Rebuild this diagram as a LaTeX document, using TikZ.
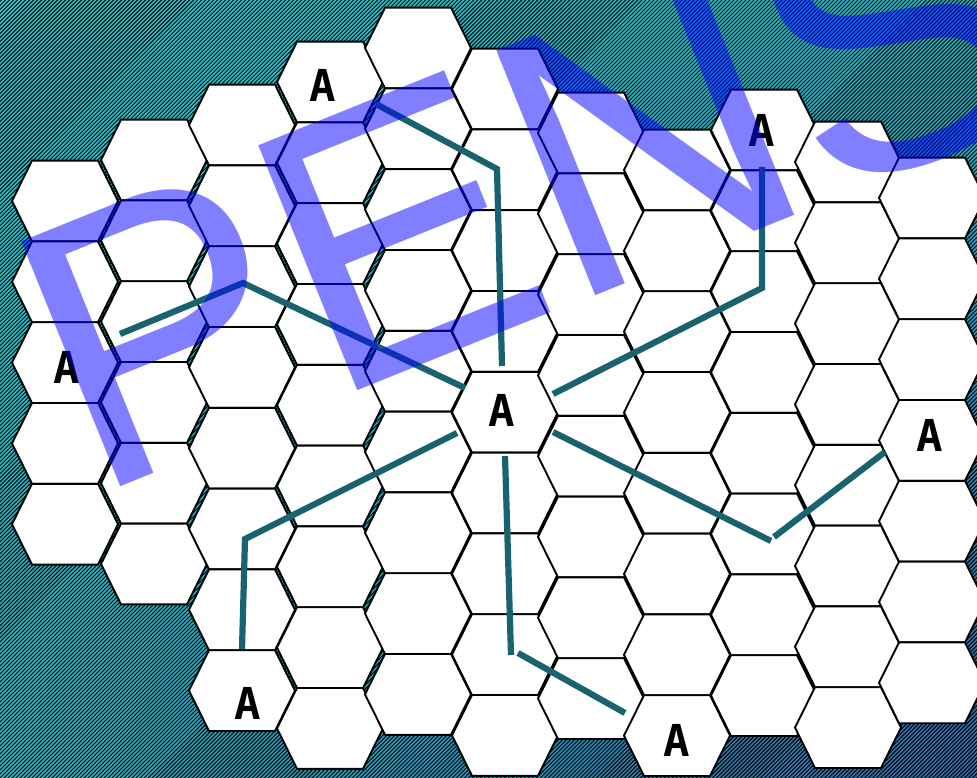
\documentclass[tikz,border=0pt]{standalone}
\usepackage{fontspec}
\newfontfamily\pensfont{Liberation Sans}
\newfontfamily\afont{DejaVu Sans Mono}
\usetikzlibrary{patterns.meta,shadings}
\definecolor{bgTL}{HTML}{33C2CA}
\definecolor{bgTR}{HTML}{30B6C2}
\definecolor{bgBL}{HTML}{30B4BE}
\definecolor{bgBR}{HTML}{2C64A0}
\definecolor{linkc}{HTML}{19636F}
\tikzset{
  hexcell/.style={fill=white, draw=black, line width=1.9pt, line join=miter},
  hatch/.style={pattern={Lines[angle=45,distance=2.83pt,line width=0.95pt]}, pattern color=black},
  link/.style={draw=linkc, line width=6.2pt},
  letter/.style={font=\afont\bfseries\fontsize{44}{44}\selectfont, text=black, inner sep=0pt},
  pens/.style={font=\pensfont\fontsize{384}{384}\selectfont, text=blue, text opacity=0.5, inner sep=0pt}
}
\begin{document}
\begin{tikzpicture}[x=1pt,y=-1pt]
\useasboundingbox (0,0) rectangle (977,778);
\clip (0,0) rectangle (977,778);
\shade[upper left=bgTL, upper right=bgTR, lower left=bgBL, lower right=bgBR] (0,0) rectangle (977,778);
\fill[hatch] (0,0) rectangle (977,778);
% honeycomb
\foreach \cx/\cy/\n in {65/201/4, 154/160/5, 242/125/7, 330/82/8, 418/48/8, 505/89/8, 591/133/7, 677/170/7, 764/130/7, 848/162/7, 932/198/6}{
  \foreach \r in {0,...,\n}{
    \pgfmathsetmacro\yy{\cy+80.8*\r}
    \draw[hexcell] (\cx-53,\yy) -- (\cx-33,\yy-40.4) -- (\cx+33,\yy-40.4) -- (\cx+53,\yy) -- (\cx+33,\yy+40.4) -- (\cx-33,\yy+40.4) -- cycle;
  }
}
% connector points
\coordinate (s1) at (465,388); \coordinate (b1) at (243,283); \coordinate (e1) at (120,334);
\coordinate (s2) at (502,366); \coordinate (b2) at (497,169); \coordinate (e2) at (376,104);
\coordinate (s3) at (553,394); \coordinate (b3) at (762,288); \coordinate (e3) at (762,167);
\coordinate (s4) at (553,432); \coordinate (b4) at (771,541); \coordinate (c4) at (774,537); \coordinate (e4) at (885,452);
\coordinate (s5) at (505,456); \coordinate (b5) at (511,655); \coordinate (c5) at (518,653); \coordinate (e5) at (625,713);
\coordinate (s6) at (457,433); \coordinate (b6) at (245,539); \coordinate (e6) at (242,649);
\draw[link] (s1) -- (b1) -- (e1);
\draw[link] (s2) -- (b2) -- (e2);
\draw[link] (s3) -- (b3) -- (e3);
\draw[link] (s4) -- (b4);
\draw[link] (c4) -- (e4);
\draw[link] (s5) -- (b5);
\draw[link] (c5) -- (e5);
\draw[link] (s6) -- (b6) -- (e6);
% letters
\node[letter] (cA) at (502,410) {A};
\node[letter] (aNW) at (323,85) {A};
\node[letter] (aNE) at (762,130) {A};
\node[letter] (aW) at (67,367) {A};
\node[letter] (aE) at (930,435) {A};
\node[letter] (aSW) at (248,703) {A};
\node[letter] (aS) at (677,740) {A};
% watermark
\node[pens, anchor=base west, rotate=22] (pens) at (91,499) {PENS};
\end{tikzpicture}
\end{document}
